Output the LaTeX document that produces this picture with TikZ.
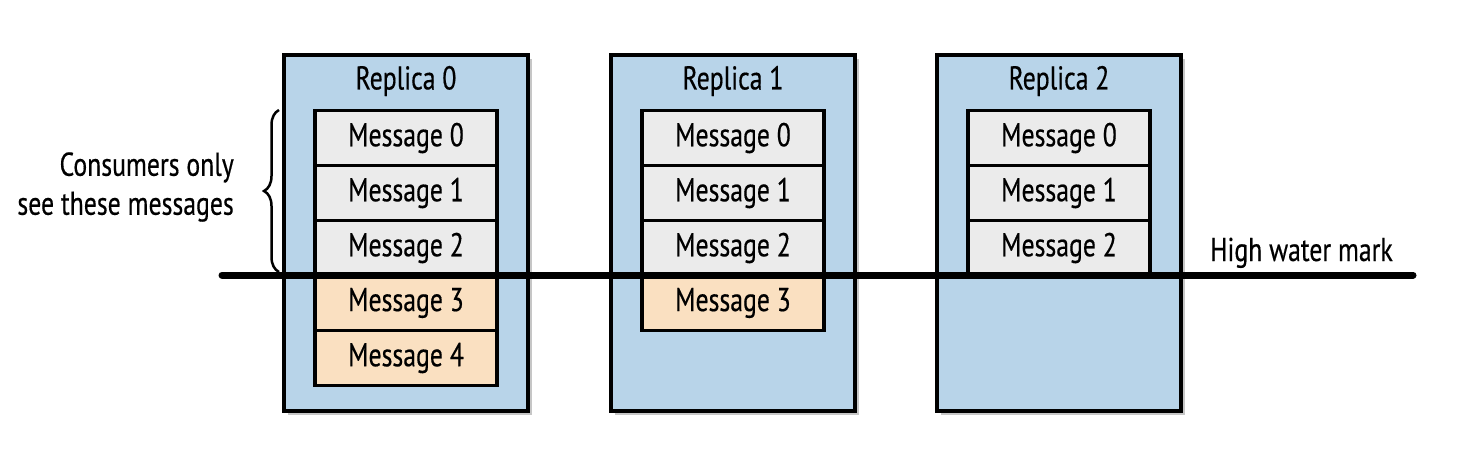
\documentclass[tikz,border=0pt]{standalone}
\usepackage{fontspec}
\setmainfont[FakeStretch=0.78,FakeBold=0.4]{PT Sans}
\usetikzlibrary{shadows,decorations.pathreplacing}
\definecolor{repblue}{RGB}{184,212,233}
\definecolor{msggrey}{RGB}{235,235,235}
\definecolor{msgorange}{RGB}{250,224,193}
\tikzset{
  replica/.style={draw=black, line width=3.5pt, fill=repblue, minimum width=244pt, minimum height=356pt, inner sep=0pt,
    drop shadow={opacity=0.45, shadow xshift=4pt, shadow yshift=-4pt}},
  msg/.style={draw=black, line width=3.5pt, minimum width=182pt, minimum height=55pt, inner sep=0pt,
    font=\fontsize{33}{39}\selectfont},
  committed/.style={msg, fill=msggrey},
  pending/.style={msg, fill=msgorange},
  title/.style={font=\fontsize{33}{39}\selectfont, inner sep=0pt},
  lbl/.style={font=\fontsize{33}{39}\selectfont, inner sep=0pt},
  hwm/.style={line width=7pt, line cap=round},
  bracestyle/.style={draw=black, line width=2.5pt, decorate, decoration={brace, amplitude=15pt}}
}
\begin{document}
\begin{tikzpicture}[x=1pt, y=-1pt]
\useasboundingbox (0,0) rectangle (1458,464);
% replicas
\node[replica] (r0) at (406,233) {};
\node[replica] (r1) at (733,233) {};
\node[replica] (r2) at (1059,233) {};
\node[title] (t0) at (406,81) {Replica 0};
\node[title] (t1) at (733,81) {Replica 1};
\node[title] (t2) at (1059,81) {Replica 2};
% replica 0 messages
\node[committed] (r0m0) at (406,138) {Message 0};
\node[committed] (r0m1) at (406,193) {Message 1};
\node[committed] (r0m2) at (406,248) {Message 2};
\node[pending] (r0m3) at (406,303) {Message 3};
\node[pending] (r0m4) at (406,358) {Message 4};
% replica 1 messages
\node[committed] (r1m0) at (733,138) {Message 0};
\node[committed] (r1m1) at (733,193) {Message 1};
\node[committed] (r1m2) at (733,248) {Message 2};
\node[pending] (r1m3) at (733,303) {Message 3};
% replica 2 messages
\node[committed] (r2m0) at (1059,138) {Message 0};
\node[committed] (r2m1) at (1059,193) {Message 1};
\node[committed] (r2m2) at (1059,248) {Message 2};
% high water mark
\coordinate (hwmL) at (222,275);
\coordinate (hwmR) at (1413,275);
\draw[hwm] (hwmL) -- (hwmR);
\node[lbl, anchor=base west] (hwmlabel) at (1210,261) {High water mark};
% brace and label
\coordinate (braceB) at (279,272);
\coordinate (braceT) at (279,110);
\draw[bracestyle] (braceB) -- (braceT);
\node[lbl, align=right, anchor=east] (consumers) at (234,187) {Consumers only\\see these messages};
\end{tikzpicture}
\end{document}
